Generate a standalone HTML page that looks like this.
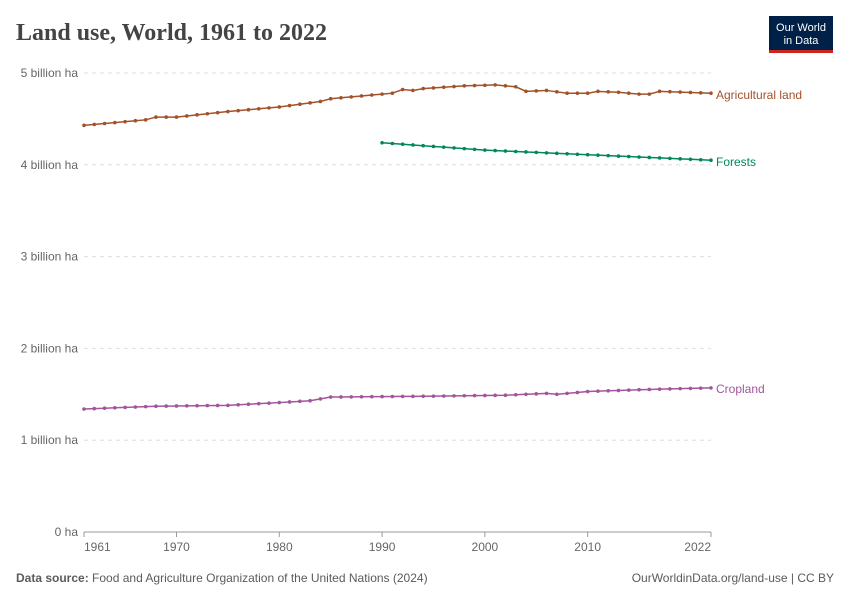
<!DOCTYPE html>
<html><head><meta charset="utf-8"><style>
body{margin:0;background:#fff;font-family:"Liberation Sans",sans-serif;}
svg text{font-family:"Liberation Sans",sans-serif;}
</style></head><body>
<svg id="s" width="850" height="600" xmlns="http://www.w3.org/2000/svg">
<rect width="850" height="600" fill="#fff"/>
<text x="16" y="40" font-size="24" font-weight="bold" fill="#444" style="font-family:'Liberation Serif',serif">Land use, World, 1961 to 2022</text>
<rect x="769" y="16" width="64" height="36" fill="#002147"/>
<rect x="769" y="50" width="64" height="3" fill="#ce261e"/>
<text x="801" y="31" font-size="11" fill="#fff" text-anchor="middle">Our World</text>
<text x="801" y="44" font-size="11" fill="#fff" text-anchor="middle">in Data</text>
<g id="grid"></g>
<g id="series"></g>
<text x="16" y="582" font-size="12" fill="#5b5b5b"><tspan font-weight="bold">Data source:</tspan> Food and Agriculture Organization of the United Nations (2024)</text>
<text x="834" y="582" font-size="12" fill="#5b5b5b" text-anchor="end">OurWorldinData.org/land-use | CC BY</text>
</svg>
<script>
const NS="http://www.w3.org/2000/svg";
const X=y=>84+(y-1961)*(711-84)/61, Y=v=>532-v*91.8;
function el(t,a,p,txt){const e=document.createElementNS(NS,t);for(const k in a)e.setAttribute(k,a[k]);if(txt!==undefined)e.textContent=txt;p.appendChild(e);return e;}
const g=document.getElementById('grid'),s=document.getElementById('series');
const labs=["0 ha","1 billion ha","2 billion ha","3 billion ha","4 billion ha","5 billion ha"];
for(let i=0;i<=5;i++){const y=Y(i);
 if(i>0)el('line',{x1:84,x2:711,y1:y,y2:y,stroke:'#ddd','stroke-dasharray':'4,4'},g);
 el('text',{x:78,y:y+4,'font-size':12,fill:'#666','text-anchor':'end'},g,labs[i]);}
el('line',{x1:84,x2:711,y1:532,y2:532,stroke:'#999'},g);
[1961,1970,1980,1990,2000,2010,2022].forEach(yr=>{el('line',{x1:X(yr),x2:X(yr),y1:532,y2:537,stroke:'#999'},g);
 const anc=yr==1961?'start':yr==2022?'end':'middle';
 el('text',{x:X(yr),y:551,'font-size':12,fill:'#666','text-anchor':anc},g,yr);});
function interp(k,a,b){const r=[];for(let y=a;y<=b;y++){let i=0;while(i<k.length-1&&k[i+1][0]<y)i++;const p=k[i],q=k[Math.min(i+1,k.length-1)];const t=q[0]==p[0]?0:(y-p[0])/(q[0]-p[0]);r.push([y,p[1]+(q[1]-p[1])*t]);}return r;}
const ser=[
 {c:'#a2522a',n:'Agricultural land',k:[[1961,4.43],[1967,4.49],[1968,4.52],[1970,4.52],[1975,4.58],[1980,4.63],[1984,4.69],[1985,4.72],[1990,4.77],[1991,4.78],[1992,4.82],[1993,4.81],[1994,4.83],[1998,4.86],[2001,4.87],[2003,4.85],[2004,4.80],[2006,4.81],[2008,4.78],[2010,4.78],[2011,4.80],[2013,4.79],[2015,4.77],[2016,4.77],[2017,4.80],[2022,4.78]],a:1961,ly:99},
 {c:'#00875e',n:'Forests',k:[[1990,4.24],[2000,4.16],[2010,4.11],[2022,4.05]],a:1990,ly:166},
 {c:'#a2559c',n:'Cropland',k:[[1961,1.34],[1968,1.37],[1975,1.38],[1980,1.41],[1983,1.43],[1985,1.47],[1995,1.48],[2002,1.49],[2006,1.51],[2007,1.50],[2010,1.53],[2015,1.55],[2022,1.57]],a:1961,ly:393}];
ser.forEach(o=>{const d=interp(o.k,o.a,2022);
 el('polyline',{points:d.map(p=>X(p[0])+','+Y(p[1])).join(' '),fill:'none',stroke:o.c,'stroke-width':1.5},s);
 d.forEach(p=>el('circle',{cx:X(p[0]),cy:Y(p[1]),r:1.8,fill:o.c},s));
 el('text',{x:716,y:o.ly,'font-size':12,fill:o.c},s,o.n);});
</script>
</body></html>
